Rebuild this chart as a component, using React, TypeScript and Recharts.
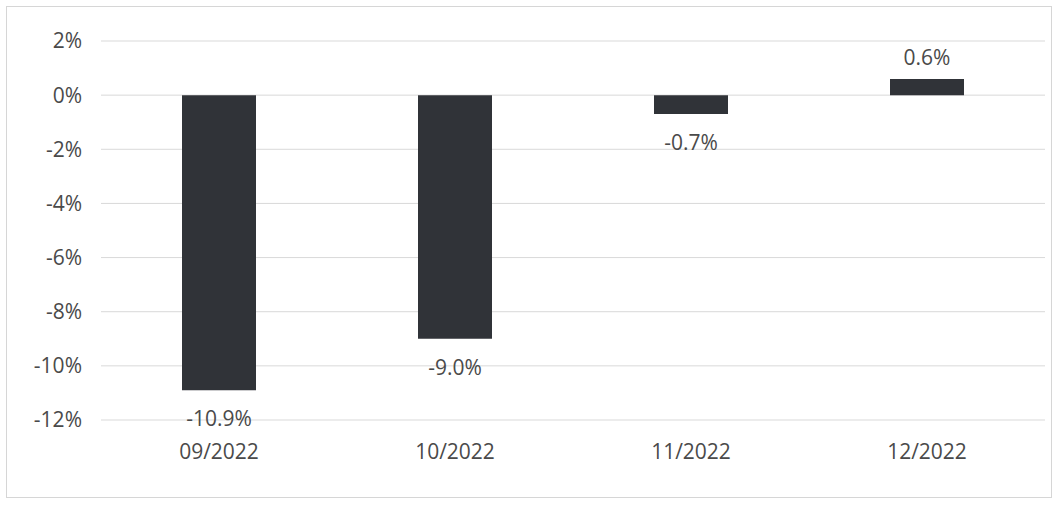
import { BarChart, Bar, XAxis, YAxis, CartesianGrid, LabelList } from 'recharts';

const months = ['09/2022', '10/2022', '11/2022', '12/2022'];
const changes = [-10.9, -9.0, -0.7, 0.6];
const yTicks = [2, 0, -2, -4, -6, -8, -10, -12];

const data = months.map((month, i) => ({ month, change: changes[i] }));

const FONT = '"Open Sans", sans-serif';

const renderLabel = (props: any) => {
  const { x, y, width, height, value } = props;
  const top = Math.min(y, y + height);
  const bottom = Math.max(y, y + height);
  const ly = value < 0 ? bottom + 28 : top - 22;
  return (
    <text
      x={x + width / 2}
      y={ly}
      textAnchor="middle"
      dominantBaseline="central"
      fill="#4a4a4a"
      fontSize={21}
      fontFamily={FONT}
    >
      {`${value.toFixed(1)}%`}
    </text>
  );
};

export default function App() {
  return (
    <div
      style={{
        position: 'absolute',
        left: 0,
        top: 0,
        width: 1056,
        height: 519,
        background: '#ffffff',
      }}
    >
      <div
        style={{
          position: 'absolute',
          left: 6,
          top: 6,
          width: 1044,
          height: 490,
          border: '1px solid #d6d6d6',
        }}
      />
      <div style={{ position: 'absolute', left: 0, top: 0 }}>
        <BarChart
          width={1056}
          height={519}
          data={data}
          margin={{ top: 41, right: 11, left: 0, bottom: 69 }}
        >
          <CartesianGrid vertical={false} stroke="#d9d9d9" />
          <XAxis
            dataKey="month"
            axisLine={false}
            tickLine={false}
            tickSize={0}
            tickMargin={24}
            height={30}
            tick={{ fill: '#4a4a4a', fontSize: 21, fontFamily: FONT }}
          />
          <YAxis
            domain={[-12, 2]}
            ticks={yTicks}
            width={101}
            axisLine={false}
            tickLine={false}
            tickSize={0}
            tickMargin={19}
            tickFormatter={(v: number) => `${v}%`}
            tick={{ fill: '#4a4a4a', fontSize: 21, fontFamily: FONT }}
          />
          <Bar dataKey="change" fill="#303338" barSize={74} isAnimationActive={false}>
            <LabelList dataKey="change" content={renderLabel} />
          </Bar>
        </BarChart>
      </div>
    </div>
  );
}
